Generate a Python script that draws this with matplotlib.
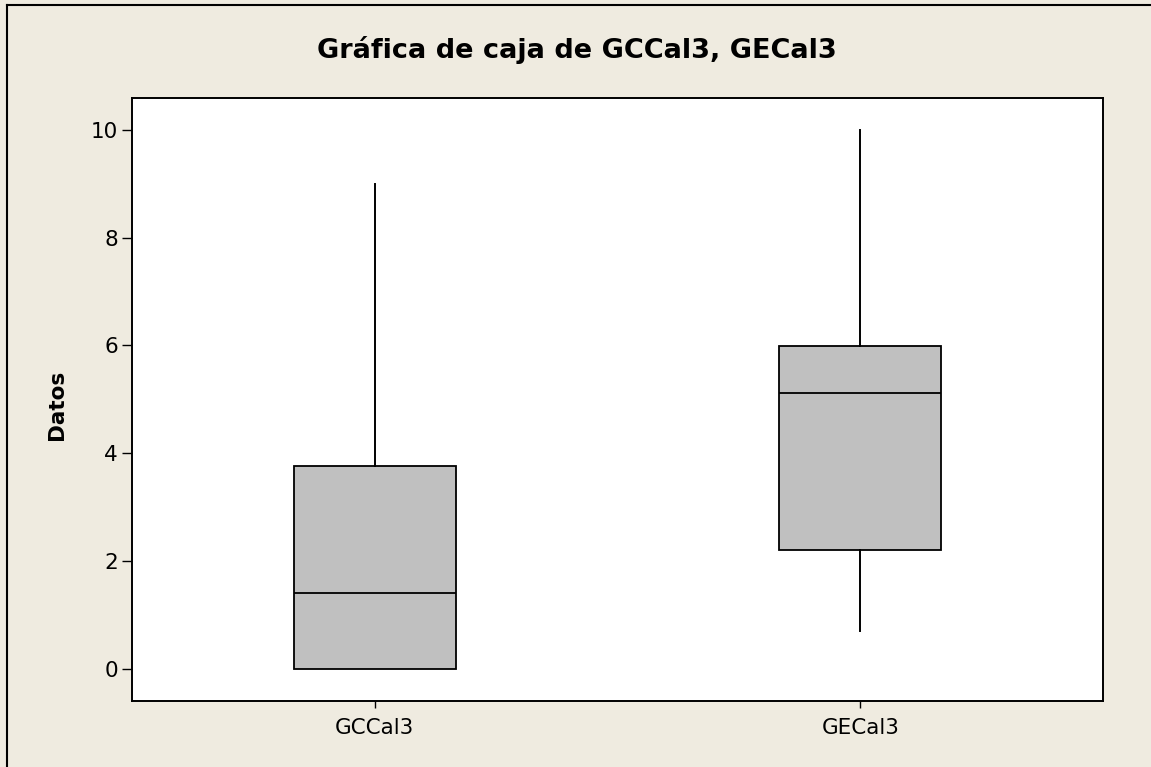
import matplotlib
matplotlib.use("Agg")
import matplotlib.pyplot as plt
from matplotlib.lines import Line2D

categories = ["GCCal3", "GECal3"]
q1 = [0.0, 2.21]
median = [1.40, 5.12]
q3 = [3.77, 5.99]
whisker_low = [0.0, 0.70]
whisker_high = [9.0, 10.0]
yticks = [0, 2, 4, 6, 8, 10]

W, H = 1151, 767
fig = plt.figure(figsize=(W / 100, H / 100), dpi=100)
fig.patch.set_facecolor("#EFEBE0")

ax = fig.add_axes([132 / W, 1 - 701 / H, (1103 - 132) / W, (701 - 98) / H])
ax.set_facecolor("white")

stats = []
for i, c in enumerate(categories):
    stats.append(dict(label=c, q1=q1[i], med=median[i], q3=q3[i],
                      whislo=whisker_low[i], whishi=whisker_high[i], fliers=[]))

ax.bxp(stats, positions=[1, 2], widths=0.333, patch_artist=True, showcaps=False,
       boxprops=dict(facecolor="#C0C0C0", edgecolor="black", linewidth=1.3),
       medianprops=dict(color="black", linewidth=1.3),
       whiskerprops=dict(color="black", linewidth=1.4))

ax.set_xlim(0.5, 2.5)
ax.set_ylim(-0.594, 10.59)
ax.set_yticks(yticks)
ax.set_yticklabels([str(t) for t in yticks])
ax.set_xticks([1, 2])
ax.set_xticklabels(categories)
for s in ax.spines.values():
    s.set_linewidth(1.4)
    s.set_color("black")
ax.tick_params(axis="y", direction="out", length=7, width=1.0, labelsize=15.5, pad=3)
ax.tick_params(axis="x", direction="out", length=5, width=1.0, labelsize=15.5, pad=7)

fig.text(57 / W, 1 - 405 / H, "Datos", rotation=90, ha="center", va="center",
         fontsize=15.5, fontweight="bold")
fig.text(577 / W, 1 - 50 / H, "Gráfica de caja de GCCal3, GECal3",
         ha="center", va="center", fontsize=19.5, fontweight="bold")

# figure border (top and left)
fig.add_artist(Line2D([7 / W, 7 / W], [0, 1 - 5 / H], transform=fig.transFigure,
                      color="black", linewidth=1.5))
fig.add_artist(Line2D([7 / W, 1], [1 - 5 / H, 1 - 5 / H], transform=fig.transFigure,
                      color="black", linewidth=1.5))

fig.savefig("out.png", dpi=100, facecolor=fig.get_facecolor())
